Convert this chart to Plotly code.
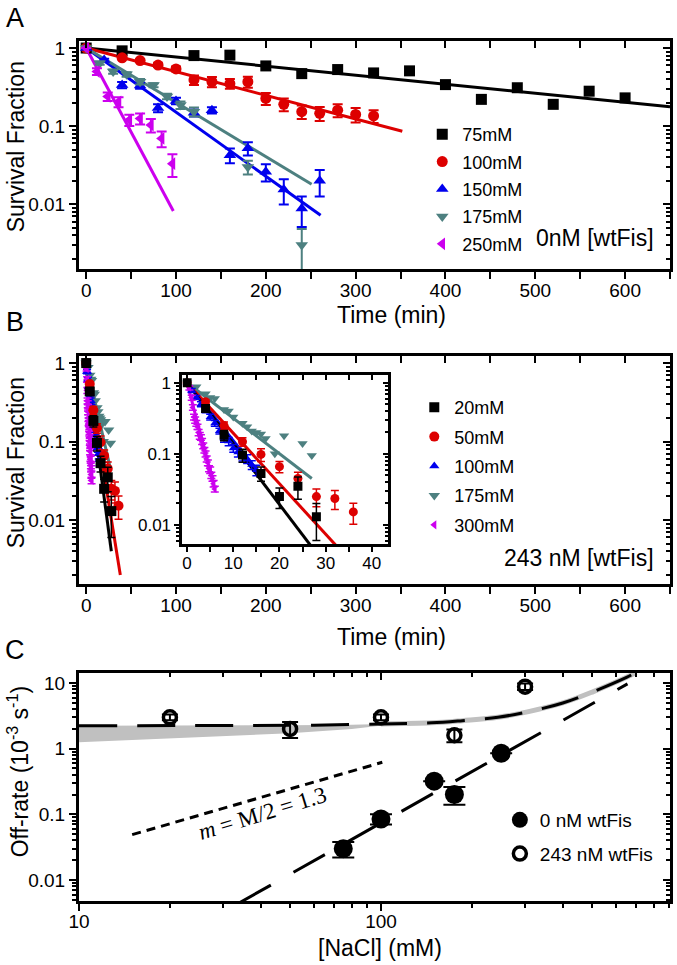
import plotly.graph_objects as go

# ---------------- Panel A data (0 nM wtFis) ----------------
A_t75 = [0, 40, 120, 160, 200, 240, 280, 320, 360, 400, 440, 480, 520, 560, 600]
A_v75 = [1.0, 0.92, 0.80, 0.81, 0.59, 0.47, 0.53, 0.48, 0.51, 0.34, 0.22, 0.31, 0.19, 0.28, 0.23]
A_t100 = [0, 40, 60, 80, 100, 120, 140, 160, 180, 200, 220, 240, 260, 280, 300, 320]
A_v100 = [1.0, 0.75, 0.69, 0.605, 0.54, 0.39, 0.37, 0.35, 0.37, 0.226, 0.19, 0.153, 0.146, 0.16, 0.141, 0.135]
A_e100 = [0, 0.03, 0.03, 0.035, 0.04, 0.055, 0.055, 0.05, 0.06, 0.04, 0.035, 0.03, 0.03, 0.03, 0.03, 0.025]
A_t150 = [0, 20, 40, 60, 80, 100, 120, 140, 160, 180, 200, 220, 240, 260]
A_v150 = [1.0, 0.70, 0.336, 0.33, 0.17, 0.21, 0.148, 0.16, 0.0425, 0.052, 0.026, 0.0154, 0.0088, 0.020]
A_e150 = [0, 0.03, 0.03, 0.03, 0.02, 0.02, 0.015, 0.015, 0.009, 0.01, 0.0065, 0.0055, 0.0037, 0.0075]
A_t175 = [0, 15, 30, 45, 60, 75, 90, 105, 120, 180, 240]
A_v175 = [1.0, 0.64, 0.50, 0.46, 0.37, 0.335, 0.24, 0.186, 0.153, 0.030, 0.0030]
A_e175 = [0, 0.03, 0.03, 0.03, 0.03, 0.02, 0.02, 0.02, 0.02, 0.006, 0.0018]
A_t250 = [0, 12, 24, 36, 48, 60, 72, 84, 96]
A_v250 = [1.0, 0.50, 0.24, 0.205, 0.12, 0.125, 0.103, 0.0695, 0.033]
A_e250 = [0, 0.05, 0.03, 0.03, 0.02, 0.02, 0.02, 0.016, 0.0107]
A_labels = ["75mM", "100mM", "150mM", "175mM", "250mM"]
# fitted single-exponential lines: start (0, 1) -> end (t_end, v_end)
A_fit_tend = [650, 352, 261, 251, 97]
A_fit_vend = [0.177, 0.086, 0.0072, 0.018, 0.0082]

# ---------------- Panel B data (243 nM wtFis) ----------------
B_t20 = [0, 4, 8, 12, 16, 20, 24, 28]
B_v20 = [1.0, 0.435, 0.183, 0.096, 0.053, 0.025, 0.035, 0.013]
B_e20 = [0, 0.04, 0.03, 0.02, 0.012, 0.008, 0.012, 0.007]
B_t50 = [0, 4, 8, 12, 16, 20, 24, 28, 32, 36]
B_v50 = [1.0, 0.54, 0.25, 0.148, 0.098, 0.066, 0.045, 0.025, 0.0235, 0.0152]
B_e50 = [0, 0.04, 0.03, 0.02, 0.02, 0.012, 0.01, 0.007, 0.007, 0.005]
B_t100 = [0, 1, 2, 3, 4, 5, 6, 7, 8, 9, 10, 11, 12, 13, 14, 15]
B_v100 = [1.0, 0.78, 0.62, 0.50, 0.41, 0.33, 0.27, 0.21, 0.165, 0.15, 0.12, 0.105, 0.091, 0.085, 0.07, 0.059]
B_e100 = [0, 0.05, 0.04, 0.04, 0.03, 0.03, 0.025, 0.02, 0.02, 0.02, 0.015, 0.015, 0.012, 0.012, 0.01, 0.01]
B_t175 = [0, 2, 4, 5, 6, 8, 9, 10, 12, 13, 14, 15, 16, 17, 19, 21, 25, 27]
B_v175 = [1.0, 0.88, 0.70, 0.62, 0.60, 0.42, 0.40, 0.33, 0.27, 0.24, 0.21, 0.20, 0.19, 0.165, 0.10, 0.18, 0.14, 0.095]
B_t300 = [0, 0.5, 1, 1.25, 1.5, 1.75, 2, 2.25, 2.5, 2.75, 3, 3.25, 3.5, 3.75, 4, 4.25, 4.5, 4.75, 5, 5.25, 5.5, 5.75, 6]
B_v300 = [1.0, 0.85, 0.62, 0.45, 0.33, 0.30, 0.27, 0.24, 0.20, 0.18, 0.17, 0.15, 0.13, 0.113, 0.10, 0.085, 0.075,
          0.062, 0.059, 0.05, 0.045, 0.038, 0.032]
B_e300 = [0, 0.06, 0.05, 0.04, 0.03, 0.03, 0.025, 0.02, 0.02, 0.02, 0.015, 0.015, 0.012, 0.01, 0.01, 0.008, 0.007,
          0.006, 0.006, 0.005, 0.004, 0.004, 0.003]
B_labels = ["20mM", "50mM", "100mM", "175mM", "300mM"]
B_fit_tend = [28, 38, 15, 27, 6]
B_fit_vend = [0.004, 0.002, 0.06, 0.045, 0.032]

# ---------------- Panel C data ----------------
C_c0 = [75, 100, 150, 175, 250]
C_k0 = [0.030, 0.085, 0.32, 0.20, 0.85]
C_e0 = [0.008, 0.015, 0.0, 0.06, 0.0]
C_c243 = [20, 50, 100, 175, 300]
C_k243 = [3.0, 2.0, 3.0, 1.6, 8.8]
C_e243 = [0.3, 0.55, 0.3, 0.35, 1.0]
C_line0_c = [34, 655]
C_line0_k = [0.0045, 9.7]
C_curve_c = [10, 30, 60, 100, 147, 186, 244, 308, 400, 505, 650, 700]
C_curve_k = [2.24, 2.25, 2.28, 2.38, 2.47, 2.67, 3.0, 3.66, 4.96, 7.4, 12.2, 14.5]
C_band_c = [10, 20, 50, 80, 110]
C_band_lo = [1.25, 1.42, 1.72, 2.0, 2.36]
C_band_hi = [2.24, 2.245, 2.27, 2.32, 2.40]
C_slope_c = [15, 101]
C_slope_k = [0.049, 0.62]
C_labels = ["0 nM wtFis", "243 nM wtFis"]

# ---------------- styling ----------------
COL = ["#000000", "#dd0000", "#0000ee", "#4d8080", "#cc00ee"]
SYM = ["square", "circle", "triangle-up", "triangle-down", "triangle-left"]
FONT = "Arial, Liberation Sans, sans-serif"
W, H = 677, 965
ML, MR, MT, MB = 79, 4, 41, 64
PW, PH = W - ML - MR, H - MT - MB


def px(x):  # page pixel -> paper x
    return (x - ML) / PW


def py(y):  # page pixel -> paper y
    return 1 - (y - MT) / PH


fig = go.Figure()


def add_line(x, y, color, xa, ya, width=3, dash="solid", group=None, shape="linear"):
    fig.add_trace(go.Scatter(x=x, y=y, mode="lines", line=dict(color=color, width=width, dash=dash, shape=shape),
                             xaxis=xa, yaxis=ya, showlegend=False, hoverinfo="skip", legendgroup=group))


def add_pts(x, y, e, color, symbol, size, name, xa, ya, legend, group, show, ethick=2, ewidth=5, mline=None,
            rank=1000):
    err = dict(type="data", array=e, color=color, thickness=ethick, width=ewidth, visible=True) if e is not None \
        else dict(visible=False)
    fig.add_trace(go.Scatter(x=x, y=y, mode="markers", name=name,
                             marker=dict(color=color, symbol=symbol, size=size,
                                         line=mline if mline else dict(width=0)),
                             error_y=err, xaxis=xa, yaxis=ya, legend=legend, legendgroup=group,
                             showlegend=show, legendrank=rank))


# ---- Panel A ----
A_t = [A_t75, A_t100, A_t150, A_t175, A_t250]
A_v = [A_v75, A_v100, A_v150, A_v175, A_v250]
A_e = [None, A_e100, A_e150, A_e175, A_e250]
for i in range(5):
    add_line([0, A_fit_tend[i]], [1, A_fit_vend[i]], COL[i], "x", "y", group="a%d" % i)
for i in range(5):
    add_pts(A_t[i], A_v[i], A_e[i], COL[i], SYM[i], 11, A_labels[i], "x", "y", "legend", "a%d" % i, True,
            rank=i + 1)

# ---- Panel B (main + inset) ----
B_t = [B_t20, B_t50, B_t100, B_t175, B_t300]
B_v = [B_v20, B_v50, B_v100, B_v175, B_v300]
B_e = [B_e20, B_e50, B_e100, None, B_e300]
B_order = [3, 2, 4, 1, 0]
for xa, ya in (("x2", "y2"), ("x3", "y3")):
    for i in B_order:
        add_line([0, B_fit_tend[i]], [1, B_fit_vend[i]], COL[i], xa, ya, group="b%d" % i)
for xa, ya, main in (("x2", "y2", True), ("x3", "y3", False)):
    sizes = [10, 10, 9, 10, 8] if main else [9, 9, 8, 9, 7]
    for i in B_order:
        add_pts(B_t[i], B_v[i], B_e[i], COL[i], SYM[i], sizes[i], B_labels[i], xa, ya, "legend2", "b%d" % i,
                main, ethick=1.5, ewidth=4, rank=i + 1)

# ---- Panel C ----
fig.add_trace(go.Scatter(x=C_band_c, y=C_band_lo, mode="lines", line=dict(width=0, color="#c0c0c0"),
                         xaxis="x4", yaxis="y4", showlegend=False, hoverinfo="skip"))
fig.add_trace(go.Scatter(x=C_band_c, y=C_band_hi, mode="lines", line=dict(width=0, color="#c0c0c0"),
                         fill="tonexty", fillcolor="#c0c0c0",
                         xaxis="x4", yaxis="y4", showlegend=False, hoverinfo="skip"))
add_line(C_curve_c[3:], C_curve_k[3:], "#c0c0c0", "x4", "y4", width=5, shape="spline")
add_line(C_curve_c, C_curve_k, "#000000", "x4", "y4", width=3, dash="38px,20px", shape="spline")
add_line(C_line0_c, C_line0_k, "#000000", "x4", "y4", width=3, dash="36px,26px")
add_line(C_slope_c, C_slope_k, "#000000", "x4", "y4", width=3, dash="9px,6px")
add_pts(C_c0, C_k0, C_e0, "#000000", "circle", 19, C_labels[0], "x4", "y4", "legend3", "c0", True,
        ethick=2, ewidth=11, rank=1)
add_pts(C_c243, C_k243, C_e243, "#000000", "circle-open", 13, C_labels[1], "x4", "y4", "legend3", "c1", True,
        ethick=2, ewidth=8, mline=dict(width=3.5, color="#000000"), rank=2)

# dummy traces for the inside-tick overlay axes (top / right)
pairs = [("x5", "y"), ("x", "y5"), ("x6", "y2"), ("x2", "y6"), ("x7", "y3"), ("x3", "y7"), ("x8", "y4"), ("x4", "y8")]
for xa, ya in pairs:
    fig.add_trace(go.Scatter(x=[None], y=[None], xaxis=xa, yaxis=ya, showlegend=False, hoverinfo="skip"))


# ---------------- axes ----------------
def lin_axis(domain, anchor, rng, dtick, mdtick, fs, tlen=7, show_labels=True, ticks="outside", line=True,
             overlay=None, side=None, standoff=0):
    d = dict(range=rng, dtick=dtick, tick0=0, ticks=ticks, ticklen=tlen, tickwidth=2, tickcolor="black",
             minor=dict(dtick=mdtick, ticks=ticks, ticklen=tlen, tickwidth=2, tickcolor="black", showgrid=False),
             showline=line, linewidth=3, linecolor="black", mirror=line, showgrid=False, zeroline=False,
             showticklabels=show_labels, tickfont=dict(size=fs, family=FONT, color="black"), anchor=anchor,
             ticklabelstandoff=standoff)
    if domain is not None:
        d["domain"] = domain
    if overlay:
        d["overlaying"] = overlay
    if side:
        d["side"] = side
    return d


def log_axis(domain, anchor, rng, fs, tlen=7, mlen=4, show_labels=True, ticks="outside", line=True,
             overlay=None, side=None, standoff=0):
    d = dict(type="log", range=rng, dtick=1, ticks=ticks, ticklen=tlen, tickwidth=2, tickcolor="black",
             minor=dict(dtick="D1", ticks=ticks, ticklen=mlen, tickwidth=1.5, tickcolor="black", showgrid=False),
             showline=line, linewidth=3, linecolor="black", mirror=line, showgrid=False, zeroline=False,
             showticklabels=show_labels, tickfont=dict(size=fs, family=FONT, color="black"), anchor=anchor,
             ticklabelstandoff=standoff)
    if domain is not None:
        d["domain"] = domain
    if overlay:
        d["overlaying"] = overlay
    if side:
        d["side"] = side
    return d


domA = [py(269), py(41)]
domB = [py(584), py(356)]
domC = [py(901), py(673)]
domIx = [px(183), px(390)]
domIy = [py(544), py(375)]
rA_x, rA_y = [-8, 650], [-2.83, 0.09]
rB_y = [-2.815, 0.09]
rI_x, rI_y = [-1, 43.6], [-2.27, 0.11]
rC_x, rC_y = [1, 2.957], [-2.32, 1.152]
TF = 19

layout_axes = dict(
    xaxis=lin_axis([0, 1], "y", rA_x, 100, 50, TF, standoff=-5),
    yaxis=log_axis(domA, "x", rA_y, TF),
    xaxis2=lin_axis([0, 1], "y2", rA_x, 100, 50, TF, standoff=-5),
    yaxis2=log_axis(domB, "x2", rB_y, TF),
    xaxis3=lin_axis(domIx, "y3", rI_x, 10, 5, 17, tlen=5, standoff=-3),
    yaxis3=log_axis(domIy, "x3", rI_y, 17, tlen=5, mlen=3),
    xaxis4=log_axis([0, 1], "y4", rC_x, TF, standoff=-6),
    yaxis4=log_axis(domC, "x4", rC_y, TF),
    xaxis5=lin_axis(None, "y", rA_x, 100, 50, TF, show_labels=False, ticks="inside", line=False,
                    overlay="x", side="top"),
    yaxis5=log_axis(None, "x", rA_y, TF, show_labels=False, ticks="inside", line=False, overlay="y", side="right"),
    xaxis6=lin_axis(None, "y2", rA_x, 100, 50, TF, show_labels=False, ticks="inside", line=False,
                    overlay="x2", side="top"),
    yaxis6=log_axis(None, "x2", rB_y, TF, show_labels=False, ticks="inside", line=False, overlay="y2",
                    side="right"),
    xaxis7=lin_axis(None, "y3", rI_x, 10, 5, 17, tlen=5, show_labels=False, ticks="inside", line=False,
                    overlay="x3", side="top"),
    yaxis7=log_axis(None, "x3", rI_y, 17, tlen=5, mlen=3, show_labels=False, ticks="inside", line=False,
                    overlay="y3", side="right"),
    xaxis8=log_axis(None, "y4", rC_x, TF, show_labels=False, ticks="inside", line=False, overlay="x4",
                    side="top"),
    yaxis8=log_axis(None, "x4", rC_y, TF, show_labels=False, ticks="inside", line=False, overlay="y4",
                    side="right"),
)

legend_common = dict(bgcolor="rgba(0,0,0,0)", borderwidth=0, xanchor="left", yanchor="top",
                     itemsizing="trace", traceorder="grouped")

ann = []


def text(s, x, y, size, angle=0, family=FONT, xanchor="center"):
    ann.append(dict(text=s, x=px(x), y=py(y), xref="paper", yref="paper", showarrow=False, textangle=angle,
                    font=dict(size=size, family=family, color="black"), xanchor=xanchor, yanchor="middle"))


text("A", 15, 18, 27)
text("B", 15, 322, 27)
text("C", 15, 650, 27)
text("Survival Fraction", 16, 147, 23, angle=-90)
text("Survival Fraction", 16, 463, 23, angle=-90)
text("Off-rate (10<sup>-3</sup> s<sup>-1</sup>)", 18, 772, 23, angle=-90)
text("Time (min)", 393, 315, 23)
text("Time (min)", 393, 637, 23)
text("[NaCl] (mM)", 382, 948, 23)
text("0nM [wtFis]", 659, 238, 23, xanchor="right")
text("243 nM [wtFis]", 659, 558, 23, xanchor="right")
text("<i>m</i> = M/2 = 1.3", 263, 813, 23, angle=-17, family="Liberation Serif, Times New Roman, serif")

fig.update_layout(
    width=W, height=H, margin=dict(l=ML, r=MR, t=MT, b=MB),
    paper_bgcolor="white", plot_bgcolor="white",
    font=dict(family=FONT, color="black"),
    annotations=ann,
    legend=dict(x=px(424), y=py(116), font=dict(size=18, family=FONT), tracegroupgap=1, **legend_common),
    legend2=dict(x=px(416), y=py(389), font=dict(size=18, family=FONT), tracegroupgap=3, **legend_common),
    legend3=dict(x=px(502), y=py(801), font=dict(size=19, family=FONT), tracegroupgap=6, **legend_common),
    **layout_axes,
)

# remove the browser's default 8px body margin so the figure fills the window exactly
fig.write_html("out.html", config={"displayModeBar": False},
               post_script="document.body.style.margin='0';document.body.style.padding='0';")
